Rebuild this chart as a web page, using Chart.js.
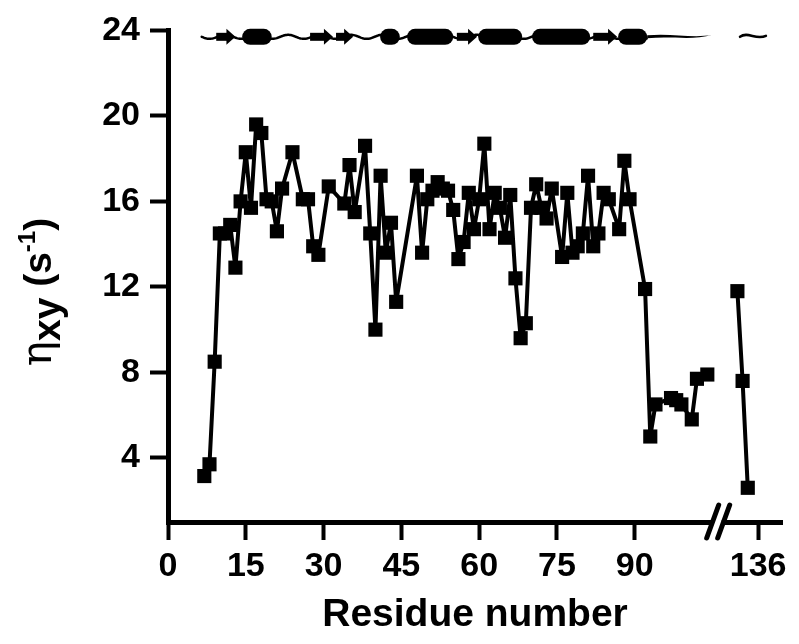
<!DOCTYPE html>
<html>
<head>
<meta charset="utf-8">
<script src="https://cdn.jsdelivr.net/npm/chart.js@4.4.1/dist/chart.umd.min.js"></script>
<style>
  html, body { margin: 0; padding: 0; background: #fff; }
  #wrap { width: 799px; height: 644px; }
</style>
</head>
<body>
<div id="wrap"><canvas id="chart" width="799" height="644"></canvas></div>
<script>
// residue numbers and eta_xy values (s^-1), main part
const residues = [7, 8, 9, 10, 11, 12, 13, 14, 15, 16, 17, 18, 19, 20, 21, 22, 24, 26, 27, 28, 29, 31,
  34, 35, 36, 38, 39, 40, 41, 42, 43, 44, 48, 49, 50, 51, 52, 53, 54, 55, 56, 57, 58, 59, 60,
  61, 62, 63, 64, 65, 66, 67, 68, 69, 70, 71, 72, 73, 74, 76, 77, 78, 79, 80, 81, 82, 83, 84,
  85, 87, 88, 89, 92, 93, 94, 97, 98, 99, 101, 102, 104];
const etaValues = [3.15, 3.7, 8.5, 14.5, 14.5, 14.9, 12.9, 16.0, 18.3, 15.7, 19.6, 19.2, 16.1, 16.0, 14.6, 16.6, 18.3, 16.1, 16.1, 13.9, 13.5, 16.7,
  15.9, 17.7, 15.5, 18.6, 14.5, 10.0, 17.2, 13.6, 15.0, 11.3, 17.2, 13.6, 16.1, 16.5, 16.9, 16.6, 16.5, 15.6, 13.3, 14.1, 16.4, 14.7, 16.1,
  18.7, 14.7, 16.4, 15.7, 14.3, 16.3, 12.4, 9.6, 10.3, 15.7, 16.8, 15.7, 15.2, 16.6, 13.4, 16.4, 13.6, 13.9, 14.5, 17.2, 13.9, 14.5, 16.4,
  16.1, 14.7, 17.9, 16.1, 11.9, 5.0, 6.5, 6.8, 6.7, 6.5, 5.8, 7.7, 7.9];

// C-terminal residues, plotted after the axis break
const tailResidues = [132, 133, 134];
const tailValues = [11.8, 7.6, 2.6];

const xTickResidues = [0, 15, 30, 45, 60, 75, 90, 136];
const xTickLabels = ["0", "15", "30", "45", "60", "75", "90", "136"];
const yTicks = [4, 8, 12, 16, 20, 24];

// secondary structure (residue ranges)
const helices = [[14.3, 20], [40.9, 44.7], [46.1, 55], [59.8, 68.3], [70.2, 81.4], [86.8, 92.4]];
const strands = [[9.3, 13], [27.4, 31.8], [32.4, 35.7], [55.7, 59.6], [82, 86.6]];
const coilMain = [6.5, 92.4];
const coilTail = [92.4, 105];
const coilEnd = [132.5, 137.5];

const breakShift = 22.2; // residues after the break are shifted left by this amount
const breakAt = 106;
const toAxis = (r) => (r > 110 ? r - breakShift : r);

const FONT = "'Liberation Sans', Arial, sans-serif";

const breakPlugin = {
  id: "axisBreak",
  afterDraw(chart) {
    const { ctx, scales: { x } } = chart;
    const bx = x.getPixelForValue(breakAt);
    const by = chart.chartArea.bottom;
    ctx.save();
    ctx.fillStyle = "#fff";
    ctx.fillRect(bx - 5, by - 4, 9, 9);
    ctx.strokeStyle = "#000";
    ctx.lineWidth = 5;
    ctx.lineCap = "round";
    [-5, 6].forEach((off) => {
      ctx.beginPath();
      ctx.moveTo(bx + off - 6, by + 16);
      ctx.lineTo(bx + off + 6, by - 17);
      ctx.stroke();
    });
    ctx.restore();
  },
};

const structurePlugin = {
  id: "structure",
  afterDatasetsDraw(chart) {
    const { ctx, scales: { x, y } } = chart;
    const yc = y.getPixelForValue(23.7);
    const px = (r) => x.getPixelForValue(toAxis(r));
    ctx.save();
    ctx.strokeStyle = "#000";
    ctx.fillStyle = "#000";
    ctx.lineCap = "round";

    // wavy coil
    ctx.lineWidth = 2.5;
    ctx.beginPath();
    for (let p = px(coilMain[0]); p <= px(coilMain[1]); p += 1) {
      const yy = yc + 2 * Math.sin((p - px(coilMain[0])) / 5);
      if (p === px(coilMain[0])) ctx.moveTo(p, yy); else ctx.lineTo(p, yy);
    }
    ctx.stroke();

    // tapered tail
    const t0 = px(coilTail[0]), t1 = px(coilTail[1]);
    ctx.beginPath();
    ctx.moveTo(t0, yc - 1.5);
    ctx.bezierCurveTo(t0 + 25, yc - 4, t0 + 45, yc + 2, t1, yc - 2);
    ctx.bezierCurveTo(t0 + 45, yc + 4, t0 + 25, yc - 1, t0, yc + 1.5);
    ctx.fill();

    // small tilde after the break
    const e0 = px(coilEnd[0]), e1 = px(coilEnd[1]);
    ctx.lineWidth = 2.5;
    ctx.beginPath();
    ctx.moveTo(e0, yc);
    ctx.bezierCurveTo(e0 + 8, yc - 6, e0 + 16, yc + 4, e1, yc - 1);
    ctx.stroke();

    // strands as arrows
    strands.forEach(([a, b]) => {
      const xa = px(a), xb = px(b);
      ctx.fillRect(xa, yc - 4, xb - xa - 7, 8);
      ctx.beginPath();
      ctx.moveTo(xb - 9, yc - 8);
      ctx.lineTo(xb, yc);
      ctx.lineTo(xb - 9, yc + 8);
      ctx.closePath();
      ctx.fill();
    });

    // helices as rounded bars
    helices.forEach(([a, b]) => {
      const xa = px(a), xb = px(b);
      ctx.beginPath();
      ctx.roundRect(xa, yc - 8, xb - xa, 16, 8);
      ctx.fill();
    });
    ctx.restore();
  },
};

const yTitlePlugin = {
  id: "yTitle",
  afterDraw(chart) {
    const ctx = chart.ctx;
    const parts = [
      { t: "\u03b7", font: "42px 'DejaVu Serif', serif", dy: 0 },
      { t: "xy", font: "bold 39px " + FONT, dy: 9 },
      { t: " (s", font: "bold 39px " + FONT, dy: 0 },
      { t: "-1", font: "bold 24px " + FONT, dy: -16 },
      { t: ")", font: "bold 39px " + FONT, dy: 0 },
    ];
    ctx.save();
    ctx.translate(38, 292);
    ctx.rotate(-Math.PI / 2);
    ctx.fillStyle = "#000";
    ctx.textBaseline = "alphabetic";
    let total = 0;
    parts.forEach((p) => {
      ctx.font = p.font;
      p.w = ctx.measureText(p.t).width;
      total += p.w;
    });
    let cx = -total / 2;
    parts.forEach((p) => {
      ctx.font = p.font;
      ctx.fillText(p.t, cx, 13 + p.dy);
      cx += p.w;
    });
    ctx.restore();
  },
};

const mainPoints = residues.map((r, i) => ({ x: toAxis(r), y: etaValues[i] }));
const tailPoints = tailResidues.map((r, i) => ({ x: toAxis(r), y: tailValues[i] }));

const seriesStyle = {
  borderColor: "#000",
  backgroundColor: "#000",
  borderWidth: 4,
  borderJoinStyle: "round",
  borderCapStyle: "round",
  pointStyle: "rect",
  pointRadius: 10,
  pointHoverRadius: 10,
  pointBackgroundColor: "#000",
  pointBorderWidth: 0,
  tension: 0,
  clip: false,
};

const ctx = document.getElementById("chart").getContext("2d");

const chart = new Chart(ctx, {
  type: "line",
  data: {
    datasets: [
      Object.assign({ label: "main", data: mainPoints }, seriesStyle),
      Object.assign({ label: "tail", data: tailPoints }, seriesStyle),
    ],
  },
  options: {
    responsive: false,
    animation: false,
    events: [],
    layout: { padding: { top: 28, right: 17, bottom: 0, left: 0 } },
    plugins: { legend: { display: false }, tooltip: { enabled: false } },
    scales: {
      x: {
        type: "linear",
        min: 0,
        max: 118.4,
        afterBuildTicks: (axis) => {
          axis.ticks = xTickResidues.map((r) => ({ value: toAxis(r) }));
        },
        afterFit: (scale) => {
          scale.height = 122;
        },
        ticks: {
          color: "#000",
          font: { family: FONT, size: 34, weight: "bold" },
          padding: 6,
          maxRotation: 0,
          autoSkip: false,
          callback: (value, index) => xTickLabels[index],
        },
        grid: { drawOnChartArea: false, drawTicks: true, tickLength: 18, tickWidth: 4, tickColor: "#000" },
        border: { color: "#000", width: 5 },
        title: {
          display: true,
          text: "Residue number",
          color: "#000",
          font: { family: FONT, size: 39, weight: "bold" },
          padding: { top: 0, bottom: 5 },
        },
      },
      y: {
        min: 1,
        max: 24,
        afterBuildTicks: (axis) => {
          axis.ticks = yTicks.map((v) => ({ value: v }));
        },
        afterFit: (scale) => {
          scale.width = 168;
        },
        ticks: {
          color: "#000",
          font: { family: FONT, size: 34, weight: "bold" },
          padding: 10,
        },
        grid: { drawOnChartArea: false, drawTicks: true, tickLength: 18, tickWidth: 4, tickColor: "#000" },
        border: { color: "#000", width: 5 },
      },
    },
  },
  plugins: [structurePlugin, breakPlugin, yTitlePlugin],
});
</script>
</body>
</html>
